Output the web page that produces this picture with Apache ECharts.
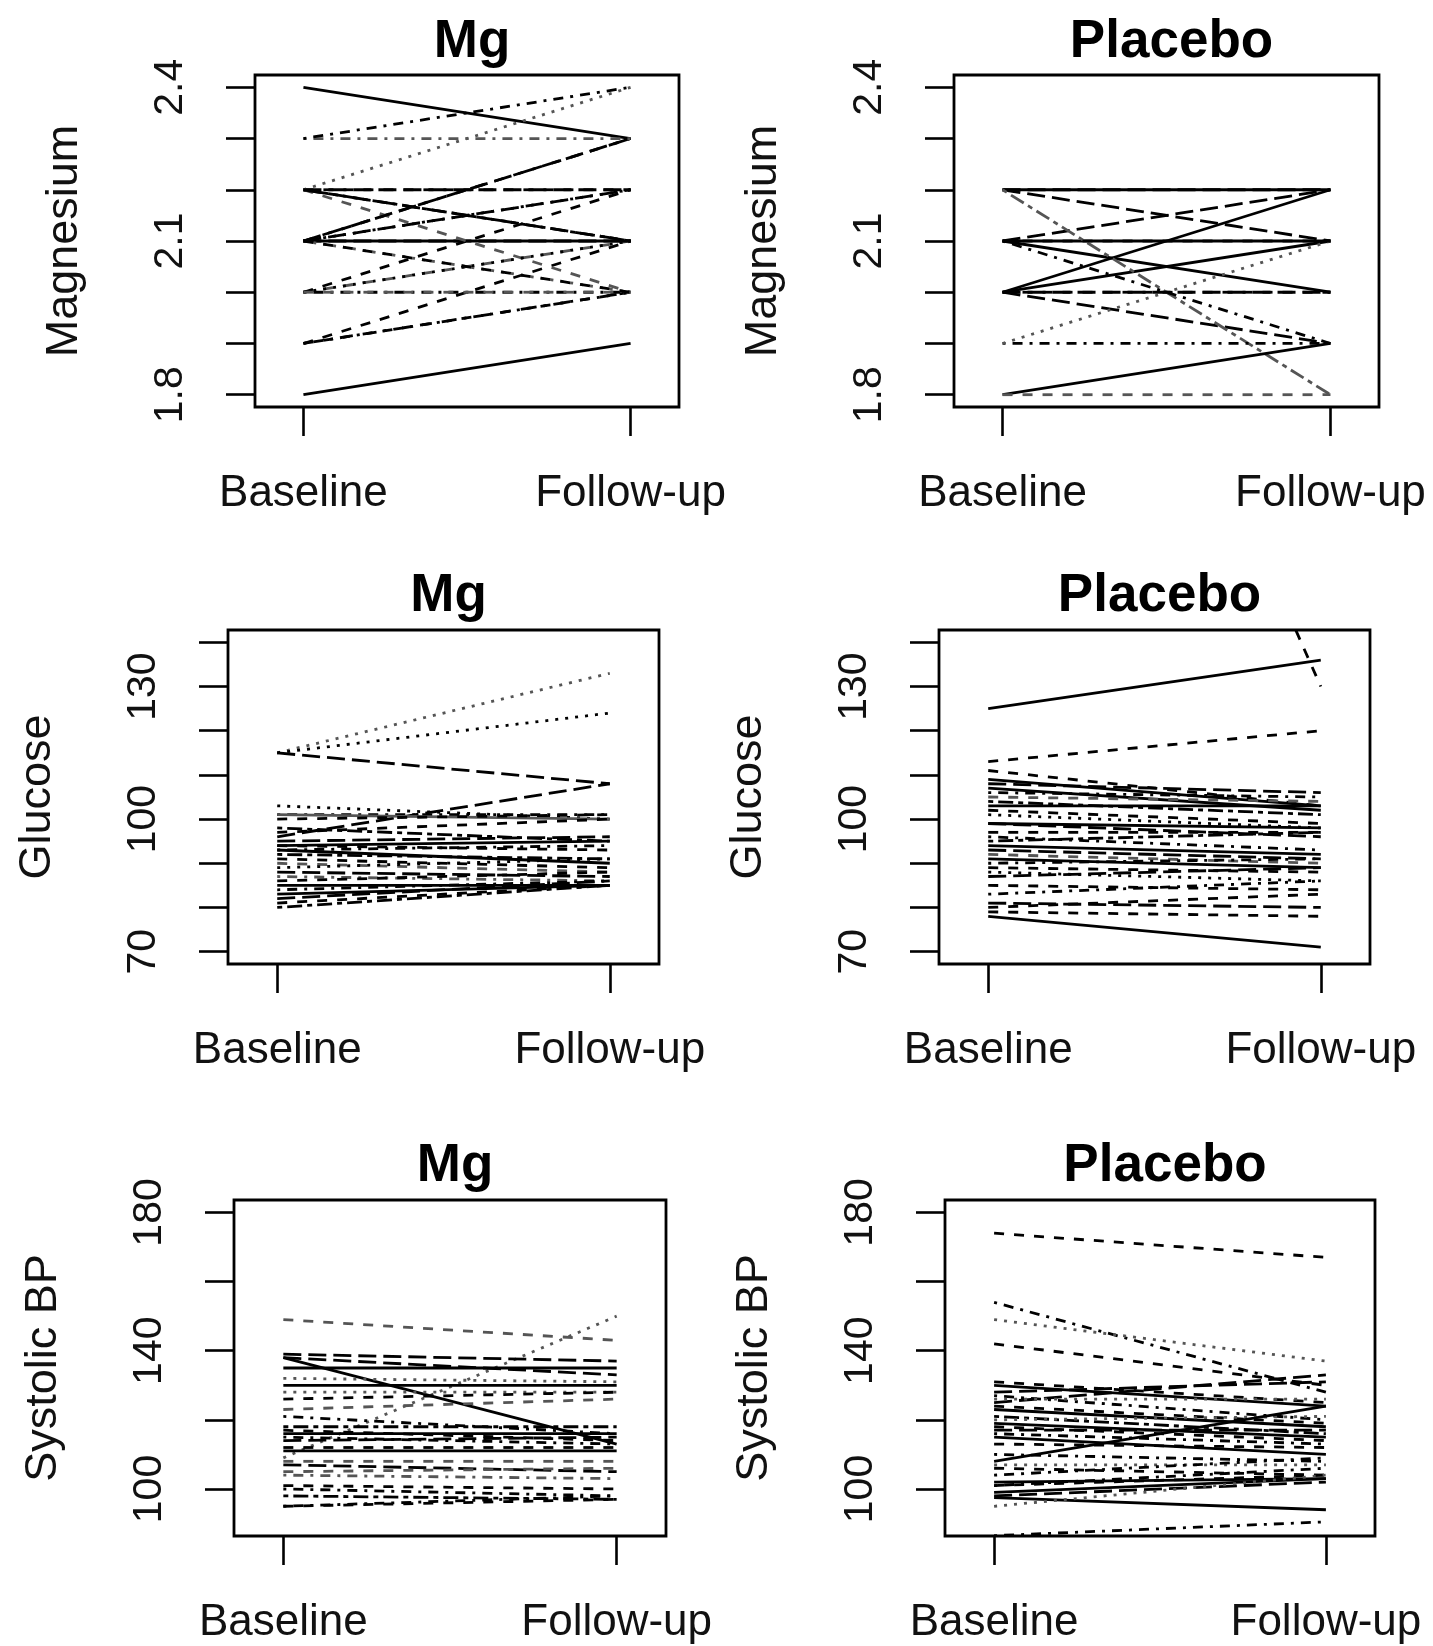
<!DOCTYPE html>
<html>
<head>
<meta charset="utf-8">
<script src="https://cdn.jsdelivr.net/npm/echarts@6/dist/echarts.min.js"></script>
<style>
  html, body { margin: 0; padding: 0; background: #ffffff; }
  #chart { width: 1433px; height: 1646px; }
</style>
</head>
<body>
<div id="chart"></div>
<script>
// ---------- data ----------
const timeLabels = ['Baseline', 'Follow-up'];
const groupTitles = ['Mg', 'Placebo'];
const measureNames = ['Magnesium', 'Glucose', 'Systolic BP'];

const magTicks = [1.8, 1.9, 2.0, 2.1, 2.2, 2.3, 2.4];
const magTickLabels = [1.8, 2.1, 2.4];
const gluTicks = [70, 80, 90, 100, 110, 120, 130, 140];
const gluTickLabels = [70, 100, 130];
const sbpTicks = [100, 120, 140, 160, 180];
const sbpTickLabels = [100, 140, 180];

// Magnesium, Mg group
const mgMagBase   = [2.4, 1.8, 1.9, 1.9, 2.0, 2.0, 2.0, 2.1, 2.1, 2.1, 2.1, 2.1, 2.2, 2.2, 2.2, 2.2, 2.1, 2.3, 2.3, 2.0, 2.2, 2.1, 2.2, 2.0, 2.1, 1.9];
const mgMagFollow = [2.3, 1.9, 2.0, 2.1, 2.0, 2.1, 2.2, 2.1, 2.1, 2.3, 2.2, 2.0, 2.2, 2.1, 2.0, 2.4, 2.3, 2.3, 2.4, 2.1, 2.2, 2.2, 2.1, 2.0, 2.0, 2.0];
// Magnesium, Placebo group
const plMagBase   = [2.2, 2.2, 2.2, 2.1, 2.0, 2.1, 2.1, 2.0, 2.0, 2.0, 2.2, 2.1, 1.9, 1.9, 1.8, 1.8, 2.1, 2.0];
const plMagFollow = [2.2, 2.2, 2.1, 2.2, 2.2, 2.1, 2.0, 2.1, 2.0, 1.9, 1.8, 1.9, 1.9, 2.1, 1.9, 1.8, 2.1, 2.0];
// Glucose, Mg group
const mgGluBase   = [115, 115, 115, 96, 103, 101, 101, 100, 97, 98, 95, 94, 94, 93, 93, 92, 91, 90, 89, 88, 87, 86, 85, 84, 83, 82, 81, 80];
const mgGluFollow = [133, 124, 108, 108, 100, 101, 100, 101, 100, 95, 96, 95, 93, 94, 90, 91, 89, 88, 91, 87, 86, 88, 85, 86, 85, 86, 85, 85];
// Glucose, Placebo group
const plGluBase   = [125, 300, 113, 111, 109, 108, 107, 106, 105, 104, 103, 102, 101, 99, 99, 97, 96, 95, 94, 93, 92, 91, 90, 89, 88, 87, 85, 83, 81, 80, 78, 79];
const plGluFollow = [136, 130, 120, 103, 103, 106, 102, 105, 104, 101, 103, 99, 98, 98, 96, 97, 93, 97, 92, 91, 90, 89, 91, 88, 86, 89, 84, 86, 80, 83, 71, 78];
// Systolic BP, Mg group
const mgSbpBase   = [149, 109, 139, 138, 135, 138, 130, 132, 128, 126, 123, 121, 118, 117, 116, 115, 114, 112, 111, 108, 107, 105, 104, 101, 100, 98, 95, 95];
const mgSbpFollow = [143, 150, 137, 113, 135, 133, 130, 131, 128, 128, 126, 116, 118, 114, 116, 113, 115, 112, 111, 108, 105, 106, 103, 100, 98, 97, 97, 98];
// Systolic BP, Placebo group
const plSbpBase   = [174, 154, 149, 142, 125, 131, 130, 128, 127, 126, 124, 123, 121, 120, 119, 118, 117, 116, 115, 113, 110, 108, 107, 106, 104, 102, 101, 99, 98, 97.5, 95, 86.5, 101];
const plSbpFollow = [167, 128, 137, 130, 133, 125, 124, 131, 120, 126, 119, 118, 116, 121, 115, 114, 117, 113, 110, 112, 108, 124, 107, 104, 109, 103, 104, 103, 102, 94, 104, 90.5, 106];

// ---------- styles (line types per subject, R lty codes 1..6; 0 = black, 1 = grey) ----------
const mgMagLty = [1,1,2,2,4,2,2,5,1,5,3,3,5,6,2,3,2,4,4,3,2,5,5,2,2,4];
const mgMagCol = [0,0,0,0,0,1,0,0,0,0,0,1,0,0,1,1,0,1,0,0,0,0,0,1,0,0];
const plMagLty = [5,1,5,5,1,1,1,1,2,5,6,4,4,3,1,2,2,5];
const plMagCol = [0,0,0,0,0,0,0,0,0,0,1,0,0,1,0,1,0,0];
const mgGluLty = [3,3,5,5,3,4,1,2,2,6,5,1,2,4,1,6,2,2,3,5,4,2,1,4,1,5,2,6];
const mgGluCol = [1,0,0,0,0,0,1,0,0,0,0,0,0,0,0,0,0,1,0,0,1,0,0,0,0,0,0,0];
const plGluLty = [1,2,2,2,1,5,1,4,2,6,1,2,3,1,5,2,4,6,1,5,2,1,4,2,3,5,2,4,5,2,1,2];
const plGluCol = [0,0,0,0,0,0,0,0,1,0,0,0,0,0,0,0,0,0,0,0,1,0,0,0,0,0,0,0,0,0,0,0];
const mgSbpLty = [2,3,5,1,1,5,1,3,3,2,2,4,6,2,1,4,5,2,1,2,5,2,4,2,4,6,2,4];
const mgSbpCol = [1,1,0,0,0,0,0,1,1,0,1,0,0,0,0,0,0,0,0,1,0,1,1,0,0,0,0,0];
const plSbpLty = [2,4,3,2,5,2,1,5,4,3,2,1,6,3,1,2,5,4,1,2,4,1,3,2,4,1,2,1,5,1,3,4,4];
const plSbpCol = [0,0,1,0,0,0,0,0,0,1,0,0,0,1,0,0,0,0,0,0,0,0,1,0,0,0,0,0,0,0,1,0,0];

const LTY = {1: 'solid', 2: [10, 10], 3: [3, 7], 4: [3, 7, 10, 7], 5: [18, 7], 6: [5, 5, 15, 5]};
const COL = ['#000000', '#555555'];
const FONT = "'Liberation Sans', Arial, Helvetica, sans-serif";

// ---------- panels ----------
const panels = [
  {grid: [255, 75, 424, 332], title: groupTitles[0], name: measureNames[0], lim: [1.8, 2.4], ticks: magTicks, labels: magTickLabels, base: mgMagBase, follow: mgMagFollow, lty: mgMagLty, col: mgMagCol, titleTop: 11},
  {grid: [954, 75, 425, 332], title: groupTitles[1], name: measureNames[0], lim: [1.8, 2.4], ticks: magTicks, labels: magTickLabels, base: plMagBase, follow: plMagFollow, lty: plMagLty, col: plMagCol, titleTop: 11},
  {grid: [228, 630, 431, 334], title: groupTitles[0], name: measureNames[1], lim: [70, 140], ticks: gluTicks, labels: gluTickLabels, base: mgGluBase, follow: mgGluFollow, lty: mgGluLty, col: mgGluCol, titleTop: 565},
  {grid: [939, 630, 431, 334], title: groupTitles[1], name: measureNames[1], lim: [70, 140], ticks: gluTicks, labels: gluTickLabels, base: plGluBase, follow: plGluFollow, lty: plGluLty, col: plGluCol, titleTop: 565},
  {grid: [234, 1200, 432, 336], title: groupTitles[0], name: measureNames[2], lim: [90, 180], ticks: sbpTicks, labels: sbpTickLabels, base: mgSbpBase, follow: mgSbpFollow, lty: mgSbpLty, col: mgSbpCol, titleTop: 1135},
  {grid: [945, 1200, 430, 336], title: groupTitles[1], name: measureNames[2], lim: [90, 180], ticks: sbpTicks, labels: sbpTickLabels, base: plSbpBase, follow: plSbpFollow, lty: plSbpLty, col: plSbpCol, titleTop: 1135}
];

const grids = [], xAxes = [], yAxes = [], titles = [], series = [];
const xlim = [0.9, 2.1];
panels.forEach((p, i) => {
  const [l, t, w, h] = p.grid;
  grids.push({left: l, top: t, width: w, height: h, show: true, borderColor: '#000', borderWidth: 2.8,
              backgroundColor: 'transparent', containLabel: false, outerBoundsMode: 'none'});
  const xr = xlim[1] - xlim[0];
  xAxes.push({
    type: 'value', gridIndex: i, min: xlim[0] - 0.04 * xr, max: xlim[1] + 0.04 * xr,
    axisLine: {show: false}, splitLine: {show: false},
    axisTick: {show: true, length: 29, customValues: [1, 2], lineStyle: {color: '#000', width: 2.6}},
    axisLabel: {show: true, customValues: [1, 2], margin: 65, fontSize: 44, color: '#111', fontFamily: FONT,
                formatter: v => timeLabels[Math.round(v) - 1]}
  });
  const yr = p.lim[1] - p.lim[0];
  yAxes.push({
    type: 'value', gridIndex: i, min: p.lim[0] - 0.04 * yr, max: p.lim[1] + 0.04 * yr,
    name: p.name, nameLocation: 'middle', nameRotate: 90, nameGap: 168,
    nameTextStyle: {fontSize: 45, color: '#111', fontFamily: FONT},
    axisLine: {show: false}, splitLine: {show: false},
    axisTick: {show: true, length: 29, customValues: p.ticks, lineStyle: {color: '#000', width: 2.6}},
    axisLabel: {show: true, customValues: p.labels, rotate: 90, margin: 64, fontSize: 41, color: '#111', fontFamily: FONT,
                formatter: v => String(v)}
  });
  titles.push({
    text: p.title, left: l + w / 2, top: p.titleTop, textAlign: 'center',
    textStyle: {fontSize: 53, fontWeight: 'bold', color: '#000', fontFamily: FONT}
  });
  p.base.forEach((b, k) => {
    series.push({
      type: 'line', xAxisIndex: i, yAxisIndex: i, clip: true, silent: true,
      symbol: 'none', animation: false,
      data: [[1, b], [2, p.follow[k]]],
      lineStyle: {color: COL[p.col[k]], width: 2.8, type: LTY[p.lty[k]], cap: 'butt'}
    });
  });
});

const chart = echarts.init(document.getElementById('chart'), null, {renderer: 'canvas'});
chart.setOption({
  backgroundColor: '#ffffff',
  animation: false,
  title: titles,
  grid: grids,
  xAxis: xAxes,
  yAxis: yAxes,
  series: series
});
</script>
</body>
</html>
